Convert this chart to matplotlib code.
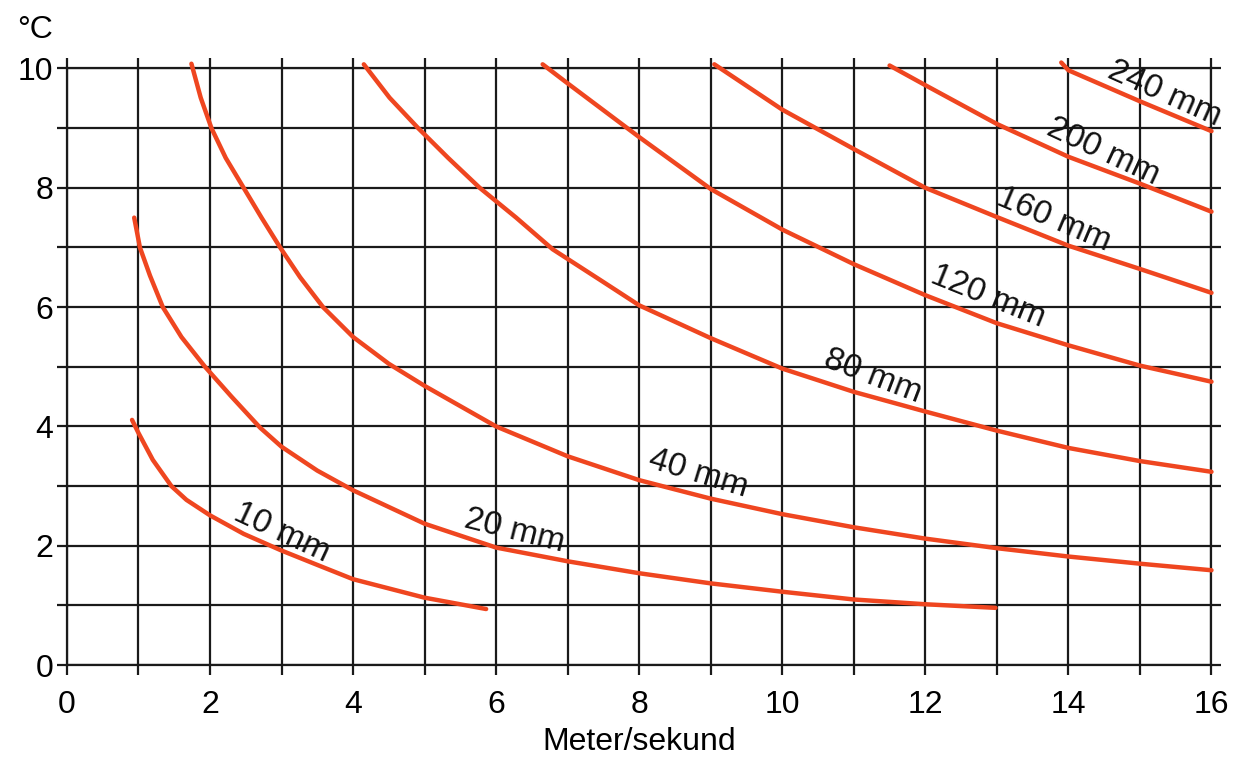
import matplotlib.pyplot as plt
from matplotlib.ticker import MultipleLocator

plt.rcParams['font.family'] = ['Liberation Sans', 'DejaVu Sans']

# curves: wind speed (m/s) -> temperature (°C)
x_10 = [0.91, 1.0, 1.2, 1.46, 1.67, 2.0, 2.47, 3.0, 3.54, 4.0, 5.0, 5.86]
y_10 = [4.11, 3.89, 3.44, 3.0, 2.77, 2.51, 2.2, 1.92, 1.66, 1.44, 1.13, 0.94]

x_20 = [0.94, 1.02, 1.16, 1.34, 1.6, 1.93, 2.3, 2.7, 3.0, 3.5, 4.0, 5.0, 6.0, 7.0, 8.0,
        9.0, 10.0, 11.0, 12.0, 12.98]
y_20 = [7.5, 7.0, 6.53, 6.0, 5.5, 5.0, 4.5, 3.98, 3.66, 3.26, 2.93, 2.37, 1.97, 1.74, 1.54,
        1.37, 1.23, 1.1, 1.02, 0.96]

x_40 = [1.74, 1.87, 2.02, 2.22, 2.47, 2.72, 2.98, 3.26, 3.58, 4.0, 4.5, 5.0, 6.0, 7.0, 8.0,
        9.0, 10.0, 11.0, 12.0, 13.0, 14.0, 15.0, 16.0]
y_40 = [10.08, 9.51, 9.0, 8.5, 8.0, 7.5, 7.0, 6.5, 6.0, 5.5, 5.05, 4.68, 4.0, 3.5, 3.1,
        2.79, 2.53, 2.31, 2.12, 1.96, 1.82, 1.7, 1.59]

x_80 = [4.15, 4.51, 4.91, 5.33, 5.77, 6.28, 6.79, 7.5, 8.0, 9.0, 10.0, 11.0, 12.0, 13.0,
        14.0, 15.0, 16.0]
y_80 = [10.07, 9.51, 9.0, 8.5, 8.0, 7.5, 6.97, 6.42, 6.03, 5.48, 4.97, 4.58, 4.25, 3.93,
        3.64, 3.42, 3.24]

x_120 = [6.65, 7.0, 8.0, 9.0, 10.0, 11.0, 12.0, 13.0, 14.0, 15.0, 16.0]
y_120 = [10.07, 9.75, 8.85, 7.98, 7.3, 6.72, 6.2, 5.73, 5.36, 5.02, 4.75]

x_160 = [9.05, 10.0, 11.0, 12.0, 13.0, 14.0, 15.0, 16.0]
y_160 = [10.07, 9.31, 8.65, 8.0, 7.51, 7.03, 6.64, 6.24]

x_200 = [11.5, 12.0, 13.0, 14.0, 15.0, 16.0]
y_200 = [10.05, 9.72, 9.07, 8.52, 8.07, 7.6]

x_240 = [13.9, 14.0, 15.0, 16.0]
y_240 = [10.1, 9.97, 9.45, 8.95]

curve_labels = ['10 mm', '20 mm', '40 mm', '80 mm', '120 mm', '160 mm', '200 mm', '240 mm']
label_x = [3.0, 6.26, 8.83, 11.26, 12.87, 13.8, 14.49, 15.34]
label_y = [2.21, 2.24, 3.21, 4.84, 6.18, 7.47, 8.61, 9.58]
label_rot = [-25, -14, -17, -21, -22, -23, -25, -24]

curves = [(x_10, y_10), (x_20, y_20), (x_40, y_40), (x_80, y_80),
          (x_120, y_120), (x_160, y_160), (x_200, y_200), (x_240, y_240)]

red = '#EF4620'
grid_col = '#1a1a1a'

fig = plt.figure(figsize=(12.4, 7.61), dpi=100)
ax = fig.add_axes([0.054, 0.126, 0.923, 0.784])

for xs, ys in curves:
    ax.plot(xs, ys, color=red, lw=3.2, solid_capstyle='round', solid_joinstyle='round',
            clip_on=False, zorder=3)

for txt, lx, ly, rot in zip(curve_labels, label_x, label_y, label_rot):
    ax.text(lx, ly, txt, fontsize=24, rotation=rot, rotation_mode='anchor',
            ha='center', va='center', color='#111111', zorder=4, clip_on=False)

ax.set_xlim(0, 16)
ax.set_ylim(0, 10)
ax.xaxis.set_major_locator(MultipleLocator(2))
ax.xaxis.set_minor_locator(MultipleLocator(1))
ax.yaxis.set_major_locator(MultipleLocator(2))
ax.yaxis.set_minor_locator(MultipleLocator(1))
ax.grid(which='both', color=grid_col, lw=1.6)
ax.set_axisbelow(True)
for s in ax.spines.values():
    s.set_color(grid_col)
    s.set_linewidth(1.6)
ax.tick_params(which='both', direction='out', length=7, width=1.6, color=grid_col,
               top=True, right=True, labelsize=23)
ax.tick_params(axis='x', pad=11)
ax.tick_params(axis='y', pad=3)

ax.set_xlabel('Meter/sekund', fontsize=23, labelpad=5)
fig.text(0.028, 0.96, '°C', fontsize=23, ha='center', va='center')

fig.savefig('out.png', dpi=100)
